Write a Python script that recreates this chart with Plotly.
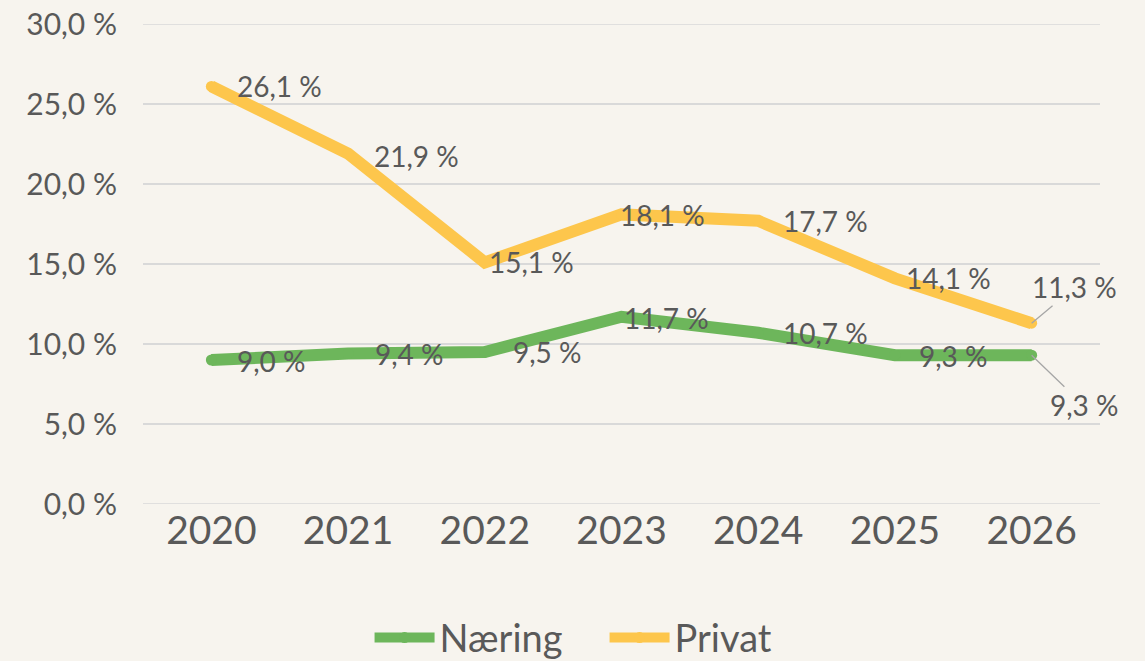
import plotly.graph_objects as go

years = [2020, 2021, 2022, 2023, 2024, 2025, 2026]
year_labels = ["2020", "2021", "2022", "2023", "2024", "2025", "2026"]
naering = [9.0, 9.4, 9.5, 11.7, 10.7, 9.3, 9.3]
privat = [26.1, 21.9, 15.1, 18.1, 17.7, 14.1, 11.3]
tick_vals = [0, 5, 10, 15, 20, 25, 30]
tick_labels = ["0,0 %", "5,0 %", "10,0 %", "15,0 %", "20,0 %", "25,0 %", "30,0 %"]

# label offsets in px (left edge shift, vertical shift); None => leader line (ax, ay)
priv_off = [(24, 0), (24, -2), (2, 0), (-4, -1), (23, 0), (9, 0), None]
naer_off = [(24, -1), (25, 0), (26, 0), (0, -1), (23, 0), (22, -1), None]
priv_leader = (43, -36)
naer_leader = (52, 50)

GREEN = "#6DB65B"
YELLOW = "#FDC64C"
BG = "#F7F4EE"
TXT = "#595959"
GRID = "#D9D9D9"
FONT = "Lato, 'Open Sans', sans-serif"

fig = go.Figure()
fig.add_trace(go.Scatter(x=years, y=naering, name="Næring", mode="lines+markers",
                         line=dict(color=GREEN, width=12),
                         marker=dict(color=GREEN, size=11)))
fig.add_trace(go.Scatter(x=years, y=privat, name="Privat", mode="lines+markers",
                         line=dict(color=YELLOW, width=12),
                         marker=dict(color=YELLOW, size=11)))


def fmt(v):
    return f"{v:.1f} %".replace(".", ",")


annotations = []
for vals, offs, leader in [(privat, priv_off, priv_leader), (naering, naer_off, naer_leader)]:
    for x, v, o in zip(years, vals, offs):
        if o is None:
            annotations.append(dict(x=x, y=v, text=fmt(v), showarrow=True,
                                    ax=leader[0], ay=leader[1], arrowhead=0,
                                    arrowwidth=1.3, arrowcolor="#A6A6A6", standoff=0,
                                    font=dict(size=28, color=TXT, family=FONT)))
        else:
            annotations.append(dict(x=x, y=v, text=fmt(v), showarrow=False,
                                    xanchor="left", yanchor="middle",
                                    xshift=o[0], yshift=o[1],
                                    font=dict(size=28, color=TXT, family=FONT)))

# edge gridlines (plotly drops gridlines at the exact range edges)
shapes = [dict(type="line", xref="paper", x0=0, x1=1, yref="y", y0=tv, y1=tv,
               line=dict(color=GRID, width=1.5), layer="below")
          for tv in (tick_vals[0], tick_vals[-1])]

fig.update_layout(
    width=1145, height=661,
    paper_bgcolor=BG, plot_bgcolor=BG,
    margin=dict(l=143, r=45, t=24, b=157, autoexpand=False),
    font=dict(family=FONT, color=TXT),
    showlegend=True,
    legend=dict(orientation="h", x=0.528, xref="container", xanchor="center",
                y=0.035, yref="container", yanchor="middle",
                font=dict(size=38, color=TXT, family=FONT), itemwidth=60,
                entrywidth=160, bgcolor="rgba(0,0,0,0)"),
    annotations=annotations,
    shapes=shapes,
)
fig.update_xaxes(range=[years[0] - 0.5, years[-1] + 0.5], tickvals=years, ticktext=year_labels,
                 showgrid=False, showline=False, zeroline=False,
                 tickfont=dict(size=39, color=TXT, family=FONT), ticks="")
fig.update_yaxes(range=[tick_vals[0], tick_vals[-1]], tickvals=tick_vals, ticktext=tick_labels,
                 showgrid=True, gridcolor=GRID, gridwidth=1.5, zeroline=False,
                 showline=False, tickfont=dict(size=30, color=TXT, family=FONT),
                 ticks="outside", ticklen=19, tickcolor="rgba(0,0,0,0)")

fig.write_html("out.html", config={"displayModeBar": False},
               post_script="document.body.style.margin='0';")
